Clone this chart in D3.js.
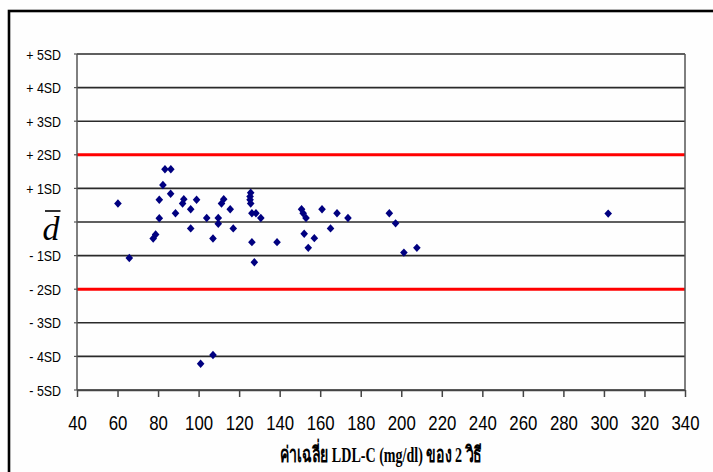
<!DOCTYPE html>
<meta charset="utf-8">
<html>
<script src="https://d3js.org/d3.v7.min.js"></script>
<body style="margin:0; background:#fff;">
<div id="chart"></div>

<script>
    // average LDL-C of the two methods (mg/dl)
    var meanLDL = [60.2, 65.8, 77.6, 78.8, 80.6, 80.6, 82.4, 83.4, 86.3, 86.2,
        88.6, 92.1, 92.7, 96.1, 96.1, 99.0, 101.0, 104.0, 107.1, 107.1,
        109.7, 109.7, 111.3, 112.4, 115.6, 117.1, 125.7, 125.4, 125.4, 125.7,
        126.3, 128.3, 130.7, 126.3, 127.5, 138.7, 150.8, 151.6, 153.0, 152.1,
        154.1, 157.1, 160.9, 165.1, 168.3, 173.7, 194.1, 197.2, 201.3, 207.7,
        302.1];
    // difference expressed in SD units
    var diffSD = [0.55, -1.07, -0.49, -0.37, 0.66, 0.11, 1.10, 1.57, 1.57, 0.84,
        0.26, 0.55, 0.68, 0.38, -0.19, 0.66, -4.22, 0.12, -0.49, -3.96,
        0.12, -0.05, 0.55, 0.68, 0.38, -0.19, 0.87, 0.76, 0.66, 0.55,
        0.26, 0.26, 0.12, -0.60, -1.20, -0.60, 0.38, 0.26, 0.12, -0.35,
        -0.77, -0.48, 0.38, -0.19, 0.26, 0.12, 0.26, -0.04, -0.91, -0.77,
        0.25];

    var sdLevels = [5, 4, 3, 2, 1, 0, -1, -2, -3, -4, -5];
    var sdLabels = ["+ 5SD", "+ 4SD", "+ 3SD", "+ 2SD", "+ 1SD", "", "- 1SD", "- 2SD", "- 3SD", "- 4SD", "- 5SD"];
    var xTicks = d3.range(40, 341, 20);
    var xTitle = "ค่าเฉลี่ย LDL-C (mg/dl) ของ 2 วิธี";

    var data = meanLDL.map(function(m, i) { return {x: m, y: diffSD[i]}; });

    var W = 713, H = 472;
    var plotL = 77, plotR = 685, plotT = 54, plotB = 390;
    var sans = "Arial, 'Liberation Sans', sans-serif";
    var serif = "'Times New Roman', 'Liberation Serif', serif";

    var svg = d3.select("#chart").append("svg")
        .attr("width", W)
        .attr("height", H)
        .style("display", "block");

    svg.append("rect").attr("width", W).attr("height", H).attr("fill", "#fefefe");

    // outer frame (runs off the picture right and bottom)
    svg.append("rect")
        .attr("x", 9).attr("y", 11)
        .attr("width", 740).attr("height", 500)
        .attr("fill", "none")
        .attr("stroke", "#000")
        .attr("stroke-width", 2.6);

    // scales
    var x = d3.scaleLinear().domain([40, 340]).range([plotL, plotR]);
    var y = d3.scaleLinear().domain([-5, 5]).range([plotB, plotT]);

    // horizontal SD lines
    svg.selectAll(".sdline")
        .data(sdLevels)
        .enter().append("line")
        .attr("class", "sdline")
        .attr("x1", plotL).attr("x2", plotR)
        .attr("y1", function(d) { return y(d); })
        .attr("y2", function(d) { return y(d); })
        .attr("stroke", function(d) { return Math.abs(d) == 2 ? "#ff0000" : "#2a2a2a"; })
        .attr("stroke-width", function(d) { return Math.abs(d) == 2 ? 3 : 1.6; });

    // side borders of plot area
    svg.append("line")
        .attr("x1", plotL).attr("x2", plotL).attr("y1", plotT).attr("y2", plotB)
        .attr("stroke", "#555").attr("stroke-width", 1.5);
    svg.append("line")
        .attr("x1", plotR).attr("x2", plotR).attr("y1", plotT).attr("y2", plotB)
        .attr("stroke", "#555").attr("stroke-width", 1.5);

    // small ticks on left axis
    svg.selectAll(".ytick")
        .data(sdLevels)
        .enter().append("line")
        .attr("class", "ytick")
        .attr("x1", plotL - 3).attr("x2", plotL)
        .attr("y1", function(d) { return y(d); })
        .attr("y2", function(d) { return y(d); })
        .attr("stroke", "#555").attr("stroke-width", 1.2);

    // y labels
    svg.selectAll(".ylab")
        .data(sdLevels.filter(function(d) { return d != 0; }))
        .enter().append("text")
        .attr("class", "ylab")
        .attr("transform", function(d) { return "translate(61," + (y(d) + 5.5) + ") scale(0.8,1)"; })
        .attr("text-anchor", "end")
        .attr("fill", "#000")
        .style("font-family", sans)
        .style("font-size", "15.5px")
        .text(function(d) { return sdLabels[sdLevels.indexOf(d)]; });

    // d-bar label for the mean difference
    svg.append("text")
        .attr("x", 51).attr("y", y(0) + 18)
        .attr("text-anchor", "middle")
        .style("font-family", serif)
        .style("font-style", "italic")
        .style("font-size", "34px")
        .attr("fill", "#000")
        .text("d");
    svg.append("line")
        .attr("x1", 45).attr("x2", 60.5)
        .attr("y1", 211).attr("y2", 211)
        .attr("stroke", "#000").attr("stroke-width", 1.6);

    // x axis
    var xAxis = svg.append("g")
        .attr("transform", "translate(0," + plotB + ")")
        .call(d3.axisBottom(x).tickValues(xTicks).tickSizeInner(7).tickSizeOuter(0).tickPadding(10));
    xAxis.select(".domain").attr("stroke", "#444").attr("stroke-width", 1.6);
    xAxis.selectAll(".tick line").attr("stroke", "#444").attr("stroke-width", 1.5);
    xAxis.selectAll(".tick text")
        .attr("fill", "#000")
        .attr("y", 0)
        .attr("dy", null)
        .attr("transform", "translate(0,40) scale(0.8,1)")
        .style("font-family", sans)
        .style("font-size", "21px");

    // x title
    svg.append("text")
        .attr("transform", "translate(" + ((plotL + plotR) / 2) + ",462) scale(0.64,1)")
        .attr("text-anchor", "middle")
        .style("font-family", serif)
        .style("font-weight", "bold")
        .style("font-size", "22px")
        .attr("fill", "#000")
        .text(xTitle);

    // data points as diamonds
    var diamond = "M0,-4.2L3.8,0L0,4.2L-3.8,0Z";
    svg.selectAll(".pt")
        .data(data)
        .enter().append("path")
        .attr("class", "pt")
        .attr("d", diamond)
        .attr("transform", function(d) { return "translate(" + x(d.x) + "," + y(d.y) + ")"; })
        .attr("fill", "#000080");
</script>

</body>
</html>
